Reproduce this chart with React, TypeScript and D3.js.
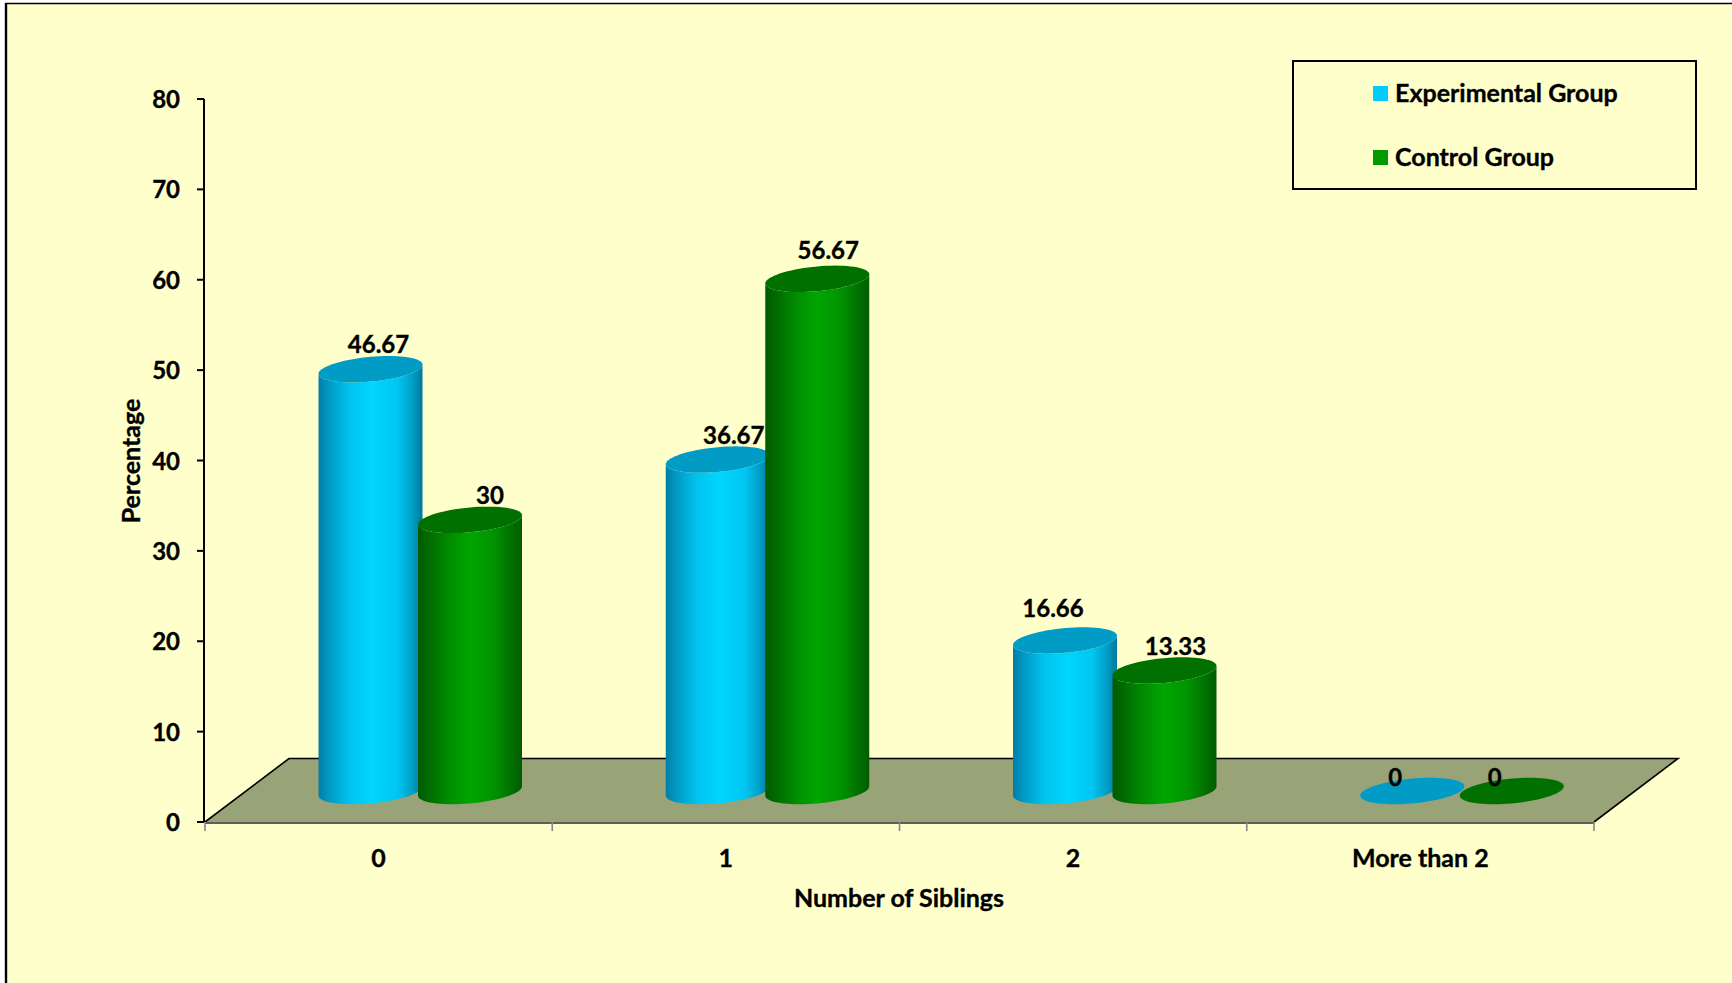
import React from "react";
import * as d3 from "d3";

// Share of respondents per sibling count, in percent.
const categories = ["0", "1", "2", "More than 2"];
const experimentalValues = [46.67, 36.67, 16.66, 0];
const controlValues = [30, 56.67, 13.33, 0];
const yTicks = [0, 10, 20, 30, 40, 50, 60, 70, 80];
const seriesNames = ["Experimental Group", "Control Group"];

const WIDTH = 1732;
const HEIGHT = 983;
const FONT = "Lato, Carlito, sans-serif";
const AXIS_FONT_SIZE = 25;

const y = d3.scaleLinear().domain([0, 80]).range([822, 99]);
const x = d3.scaleBand().domain(categories).range([205, 1594]).paddingInner(0).paddingOuter(0);

// Floor parallelogram depth and the lift of the cylinders off the front edge.
const DEPTH_X = 84;
const DEPTH_Y = 63.5;
const BAR_LIFT = 31;
const RX = 52;
const RY = 12.4;
const SHEAR = 4.6;

const series = [
  { key: "exp", values: experimentalValues, centre: 165.5, top: "#009cc6", swatch: "#00ccff",
    stops: [["0%", "#007ea6"], ["10%", "#0099c4"], ["30%", "#00c4ee"], ["52%", "#00d6ff"], ["76%", "#00c6f2"], ["90%", "#009fc8"], ["100%", "#00789c"]],
    nudge: [[8, -16], [16, -16], [-12, -23], [-17, -5]] },
  { key: "ctl", values: controlValues, centre: 265, top: "#007000", swatch: "#009900",
    stops: [["0%", "#005a00"], ["12%", "#006e00"], ["32%", "#009000"], ["50%", "#00a600"], ["72%", "#009400"], ["88%", "#007400"], ["100%", "#005c00"]],
    nudge: [[20, -16], [11, -20], [11, -16], [-17, -5]] },
];

const line = d3.line<[number, number]>().x((d) => d[0]).y((d) => d[1]);

// A point on the sheared ellipse that forms a cylinder's end cap.
const capPoint = (cx: number, cy: number, t: number): [number, number] => [
  cx + RX * Math.cos(t),
  cy - SHEAR * Math.cos(t) + RY * Math.sin(t),
];

const capPath = (cx: number, cy: number) =>
  line(d3.range(0, 73).map((i) => capPoint(cx, cy, (i / 72) * 2 * Math.PI))) + "Z";

const bodyPath = (cx: number, baseY: number, topY: number) => {
  const lower = d3.range(0, 37).map((i) => capPoint(cx, baseY, (i / 36) * Math.PI));
  const upper = d3.range(36, -1, -1).map((i) => capPoint(cx, topY, (i / 36) * Math.PI));
  return line([...lower, ...upper]) + "Z";
};

export default function App() {
  // A hairline stroke brings Lato's bold closer to the heavier label weight.
  const textBase = { fontFamily: FONT, fontWeight: 700, fill: "#000", stroke: "#000", strokeWidth: 0.35 } as const;
  const y0 = y(0);
  const xMin = x.range()[0];
  const xMax = x.range()[1];
  const xTicks = [...categories.map((c) => x(c) as number), xMax];

  return (
    <svg
      width={WIDTH}
      height={HEIGHT}
      viewBox={`0 0 ${WIDTH} ${HEIGHT}`}
      style={{ position: "absolute", left: 0, top: 0, display: "block", background: "#fff" }}
    >
      <defs>
        {series.map((s) => (
          <linearGradient key={s.key} id={`grad-${s.key}`} x1="0" x2="1" y1="0" y2="0">
            {s.stops.map(([o, c]) => (
              <stop key={o} offset={o} stopColor={c} />
            ))}
          </linearGradient>
        ))}
      </defs>

      {/* Chart area with its outer border */}
      <rect x={6} y={3.5} width={WIDTH} height={HEIGHT} fill="#ffffcc" />
      <line x1={6} x2={6} y1={3} y2={HEIGHT} stroke="#000" strokeWidth={2.4} />
      <line x1={5} x2={WIDTH} y1={3.5} y2={3.5} stroke="#000" strokeWidth={1.4} />

      {/* Floor */}
      <polygon
        points={`${xMin},${y0} ${xMin + DEPTH_X},${y0 - DEPTH_Y} ${xMax + DEPTH_X},${y0 - DEPTH_Y} ${xMax},${y0}`}
        fill="#98a377"
      />
      <polyline
        points={`${xMin},${y0} ${xMin + DEPTH_X},${y0 - DEPTH_Y} ${xMax + DEPTH_X},${y0 - DEPTH_Y} ${xMax},${y0}`}
        fill="none"
        stroke="#000"
        strokeWidth={1.6}
      />

      {/* Category axis */}
      <line x1={xMin} x2={xMax} y1={y0 + 1} y2={y0 + 1} stroke="#5e5e5e" strokeWidth={2} />
      {xTicks.map((t) => (
        <line key={t} x1={t} x2={t} y1={y0} y2={y0 + 9} stroke="#868686" strokeWidth={1.6} />
      ))}
      {categories.map((c) => (
        <text
          key={c}
          {...textBase}
          x={(x(c) as number) + x.bandwidth() / 2}
          y={867}
          fontSize={AXIS_FONT_SIZE}
          textAnchor="middle"
        >
          {c}
        </text>
      ))}
      <text {...textBase} x={899} y={907} fontSize={AXIS_FONT_SIZE} textAnchor="middle">
        Number of Siblings
      </text>

      {/* Value axis */}
      <line x1={204} x2={204} y1={y(80)} y2={y0} stroke="#000" strokeWidth={2} />
      {yTicks.map((t) => (
        <g key={t}>
          <line x1={197} x2={204} y1={y(t)} y2={y(t)} stroke="#000" strokeWidth={2} />
          <text {...textBase} x={180} y={y(t) + 9} fontSize={24} textAnchor="end">
            {t}
          </text>
        </g>
      ))}
      <text
        {...textBase}
        transform="translate(140,461) rotate(-90)"
        fontSize={AXIS_FONT_SIZE}
        textAnchor="middle"
      >
        Percentage
      </text>

      {/* Cylinders */}
      {categories.map((c, i) =>
        series.map((s) => {
          const cx = (x(c) as number) + s.centre;
          const v = s.values[i];
          const baseY = y(0) - BAR_LIFT;
          const topY = y(v) - BAR_LIFT;
          return (
            <g key={s.key + c}>
              {v > 0 && <path d={bodyPath(cx, baseY, topY)} fill={`url(#grad-${s.key})`} />}
              <path d={capPath(cx, topY)} fill={s.top} />
            </g>
          );
        })
      )}

      {/* Value labels */}
      {categories.map((c, i) =>
        series.map((s) => (
          <text
            key={s.key + c}
            {...textBase}
            x={(x(c) as number) + s.centre + s.nudge[i][0]}
            y={y(s.values[i]) - BAR_LIFT + s.nudge[i][1]}
            fontSize={24}
            textAnchor="middle"
          >
            {s.values[i]}
          </text>
        ))
      )}

      {/* Legend */}
      <rect x={1293} y={61} width={403} height={128} fill="#ffffcc" stroke="#000" strokeWidth={2} />
      {series.map((s, i) => (
        <g key={s.key}>
          <rect x={1373} y={86 + i * 64} width={15} height={15} fill={s.swatch} />
          <text {...textBase} x={1395} y={102 + i * 64} fontSize={AXIS_FONT_SIZE}>
            {seriesNames[i]}
          </text>
        </g>
      ))}
    </svg>
  );
}
